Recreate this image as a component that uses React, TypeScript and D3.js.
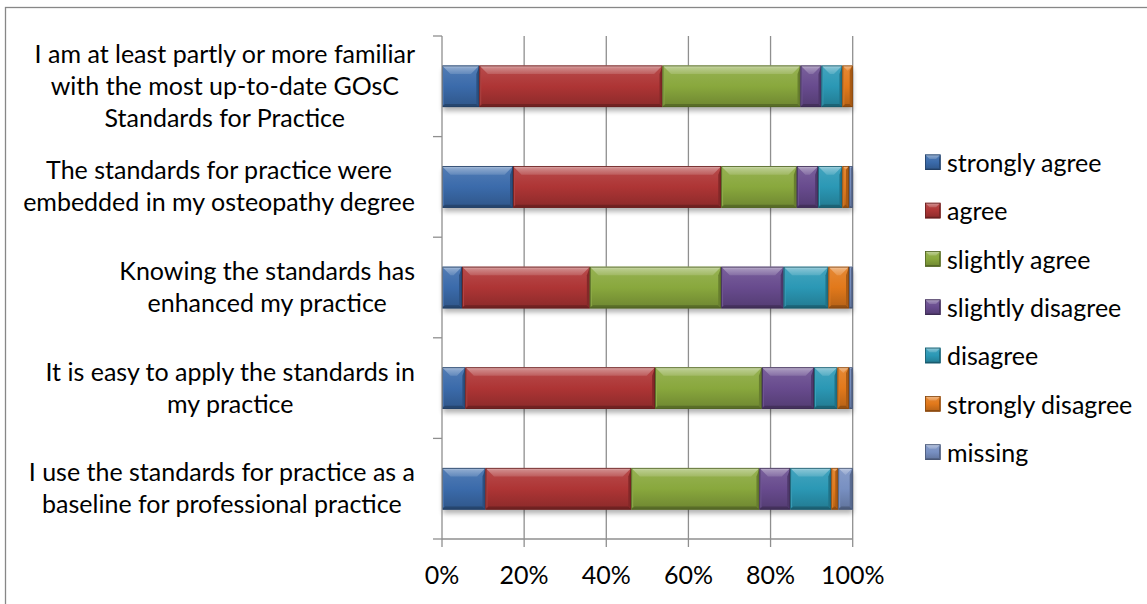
import React, { useEffect, useRef } from 'react';
import * as d3 from 'd3';

const W = 1147;
const H = 604;

// Question wording, one entry per bar (top to bottom), pre-wrapped into lines
const categories: string[][] = [
  ['I am at least partly or more familiar', 'with the most up-to-date GOsC', 'Standards for Practice'],
  ['The standards for practice were', 'embedded in my osteopathy degree'],
  ['Knowing the standards has', 'enhanced my practice'],
  ['It is easy to apply the standards in', 'my practice'],
  ['I use the standards for practice as a', 'baseline for professional practice'],
];

const seriesNames = [
  'strongly agree',
  'agree',
  'slightly agree',
  'slightly disagree',
  'disagree',
  'strongly disagree',
  'missing',
];

// Share of responses (%) per question, in the order of `categories`
const stronglyAgree = [9.1, 17.3, 4.9, 5.7, 10.6];
const agree = [44.6, 50.7, 31.1, 46.2, 35.5];
const slightlyAgree = [33.6, 18.4, 32.0, 26.0, 31.2];
const slightlyDisagree = [5.1, 5.2, 15.2, 12.7, 7.5];
const disagree = [5.1, 5.9, 10.9, 5.7, 10.0];
const stronglyDisagree = [2.5, 1.6, 5.0, 2.8, 1.7];
const missing = [0, 0.9, 0.9, 0.9, 3.5];

const xTicks = [0, 20, 40, 60, 80, 100];

const seriesColors = ['#3B6BAB', '#AE3535', '#89A83D', '#684B8E', '#2B98B5', '#E2791B', '#7890C2'];

const FONT = 'Lato, "Open Sans", sans-serif';
const FONT_SIZE = 25;

export default function App() {
  const ref = useRef<SVGSVGElement | null>(null);

  useEffect(() => {
    const svg = d3.select(ref.current);
    svg.selectAll('*').remove();

    const seriesValues = [
      stronglyAgree,
      agree,
      slightlyAgree,
      slightlyDisagree,
      disagree,
      stronglyDisagree,
      missing,
    ];
    const rows = categories.map((_, i) => {
      const r: Record<string, number> = { idx: i };
      seriesNames.forEach((s, k) => (r[s] = seriesValues[k][i]));
      return r;
    });
    const stacked = d3.stack<Record<string, number>>().keys(seriesNames)(rows);

    const plot = { left: 442, right: 852.7, top: 36, bottom: 539 };
    const x = d3.scaleLinear().domain([0, 100]).range([plot.left, plot.right]);
    const y = d3
      .scaleBand<number>()
      .domain(categories.map((_, i) => i))
      .range([plot.top, plot.bottom])
      .paddingInner(0.587)
      .paddingOuter(0.2935);

    const defs = svg.append('defs');
    const light = (c: string, t: number) => d3.interpolateRgb(c, '#ffffff')(t);
    const dark = (c: string, t: number) => d3.interpolateRgb(c, '#000000')(t);

    seriesColors.forEach((c, i) => {
      const face = defs
        .append('linearGradient')
        .attr('id', `face-${i}`)
        .attr('x1', 0)
        .attr('y1', 0)
        .attr('x2', 0)
        .attr('y2', 1);
      face.append('stop').attr('offset', 0).attr('stop-color', light(c, 0.12));
      face.append('stop').attr('offset', 0.5).attr('stop-color', c);
      face.append('stop').attr('offset', 1).attr('stop-color', dark(c, 0.2));

      const top = defs
        .append('linearGradient')
        .attr('id', `top-${i}`)
        .attr('x1', 0)
        .attr('y1', 0)
        .attr('x2', 0)
        .attr('y2', 1);
      top.append('stop').attr('offset', 0).attr('stop-color', light(c, 0.62));
      top.append('stop').attr('offset', 0.3).attr('stop-color', light(c, 0.4));
      top.append('stop').attr('offset', 1).attr('stop-color', light(c, 0.2));
    });

    const blur = defs
      .append('filter')
      .attr('id', 'shadow')
      .attr('x', '-5%')
      .attr('y', '-30%')
      .attr('width', '110%')
      .attr('height', '160%');
    blur.append('feGaussianBlur').attr('stdDeviation', 2.4);

    // Chart frame
    svg
      .append('rect')
      .attr('x', 5.5)
      .attr('y', 7.5)
      .attr('width', 1300)
      .attr('height', 800)
      .attr('fill', '#ffffff')
      .attr('stroke', '#878787')
      .attr('stroke-width', 1.3);

    const grid = svg.append('g');
    // Vertical gridlines
    grid
      .selectAll('line.grid')
      .data(xTicks.slice(1))
      .join('line')
      .attr('x1', (d) => x(d))
      .attr('x2', (d) => x(d))
      .attr('y1', plot.top)
      .attr('y2', plot.bottom)
      .attr('stroke', '#8f8f8f')
      .attr('stroke-width', 1.3);

    // Bevelled segment
    const bevel = (
      g: d3.Selection<SVGGElement, unknown, null, undefined>,
      x0: number,
      y0: number,
      w: number,
      h: number,
      ci: number,
      depth: number,
      bottomDepth: number
    ) => {
      const c = seriesColors[ci];
      const x1 = x0 + w;
      const y1 = y0 + h;
      g.append('rect').attr('x', x0).attr('y', y0).attr('width', w).attr('height', h).attr('fill', `url(#face-${ci})`);
      const b = Math.min(depth, w / 2);
      g.append('polygon')
        .attr('points', [[x0, y0], [x1, y0], [x1 - b, y0 + b], [x0 + b, y0 + b]].map((p) => p.join(',')).join(' '))
        .attr('fill', `url(#top-${ci})`);
      const bb = Math.min(bottomDepth, w / 2);
      g.append('polygon')
        .attr('points', [[x0, y1], [x1, y1], [x1 - bb, y1 - bb], [x0 + bb, y1 - bb]].map((p) => p.join(',')).join(' '))
        .attr('fill', dark(c, 0.35));
      g.append('polygon')
        .attr('points', [[x1, y0], [x1, y1], [x1 - bb, y1 - bb], [x1 - bb, y0 + b]].map((p) => p.join(',')).join(' '))
        .attr('fill', dark(c, 0.25));
      g.append('polygon')
        .attr('points', [[x0, y0], [x0, y1], [x0 + bb * 0.6, y1 - bb], [x0 + bb * 0.6, y0 + b]].map((p) => p.join(',')).join(' '))
        .attr('fill', light(c, 0.08));
      g.append('rect')
        .attr('x', x0 + 0.4)
        .attr('y', y0 + 0.4)
        .attr('width', Math.max(0, w - 0.8))
        .attr('height', h - 0.8)
        .attr('fill', 'none')
        .attr('stroke', dark(c, 0.42))
        .attr('stroke-width', 0.8);
    };

    // Drop shadows below each bar
    const shadows = svg.append('g');
    categories.forEach((_, i) => {
      shadows
        .append('rect')
        .attr('x', x(0) + 1)
        .attr('y', (y(i) as number) + 4)
        .attr('width', x(100) - x(0) - 1)
        .attr('height', y.bandwidth())
        .attr('fill', '#000')
        .attr('opacity', 0.3)
        .attr('filter', 'url(#shadow)');
    });

    const bars = svg.append('g');
    stacked.forEach((layer, ci) => {
      layer.forEach((seg, i) => {
        const x0 = x(seg[0]);
        const w = x(seg[1]) - x0;
        if (w <= 0) return;
        bars.append('g').call((g) => bevel(g as any, x0, y(i) as number, w, y.bandwidth(), ci, 8.5, 3));
      });
    });

    // Axes
    const axis = svg.append('g').attr('stroke', '#8f8f8f').attr('stroke-width', 1.3);
    axis.append('line').attr('x1', plot.left).attr('x2', plot.left).attr('y1', plot.top).attr('y2', plot.bottom);
    axis.append('line').attr('x1', plot.left).attr('x2', plot.right).attr('y1', plot.bottom).attr('y2', plot.bottom);
    const bounds = d3.range(categories.length + 1).map((k) => plot.top + k * y.step());
    axis
      .selectAll('line.ytick')
      .data(bounds)
      .join('line')
      .attr('x1', plot.left - 9)
      .attr('x2', plot.left)
      .attr('y1', (d) => d)
      .attr('y2', (d) => d);
    axis
      .selectAll('line.xtick')
      .data(xTicks)
      .join('line')
      .attr('x1', (d) => x(d))
      .attr('x2', (d) => x(d))
      .attr('y1', plot.bottom)
      .attr('y2', plot.bottom + 8);

    const text = svg.append('g').attr('font-family', FONT).attr('font-size', FONT_SIZE).attr('fill', '#000');

    text
      .selectAll('text.xlab')
      .data(xTicks)
      .join('text')
      .attr('x', (d) => x(d))
      .attr('y', 574)
      .attr('text-anchor', 'middle')
      .attr('dominant-baseline', 'central')
      .text((d) => `${d}%`);

    // Category labels: lines centred on their block, block right-aligned near the axis
    const lineGap = 32;
    categories.forEach((lines, i) => {
      const cy = (y(i) as number) + y.bandwidth() / 2;
      const g = text.append('g');
      const nodes = lines.map((ln, k) =>
        g
          .append('text')
          .attr('y', cy + (k - (lines.length - 1) / 2) * lineGap - 1.5)
          .attr('text-anchor', 'middle')
          .attr('dominant-baseline', 'central')
          .text(ln)
      );
      const maxW = d3.max(nodes, (n) => (n.node() as SVGTextElement).getComputedTextLength()) ?? 0;
      nodes.forEach((n) => n.attr('x', 415 - maxW / 2));
    });

    // Legend
    const legend = svg.append('g');
    seriesNames.forEach((name, k) => {
      const cy = 162 + k * 48.3;
      legend.append('g').call((g) => bevel(g as any, 925, cy - 7.5, 15.5, 15.5, k, 4.5, 1.5));
      text
        .append('text')
        .attr('x', 947)
        .attr('y', cy)
        .attr('dominant-baseline', 'central')
        .text(name);
    });
  }, []);

  return (
    <svg
      ref={ref}
      width={W}
      height={H}
      style={{ position: 'absolute', left: 0, top: 0, display: 'block', background: '#fff' }}
    />
  );
}
